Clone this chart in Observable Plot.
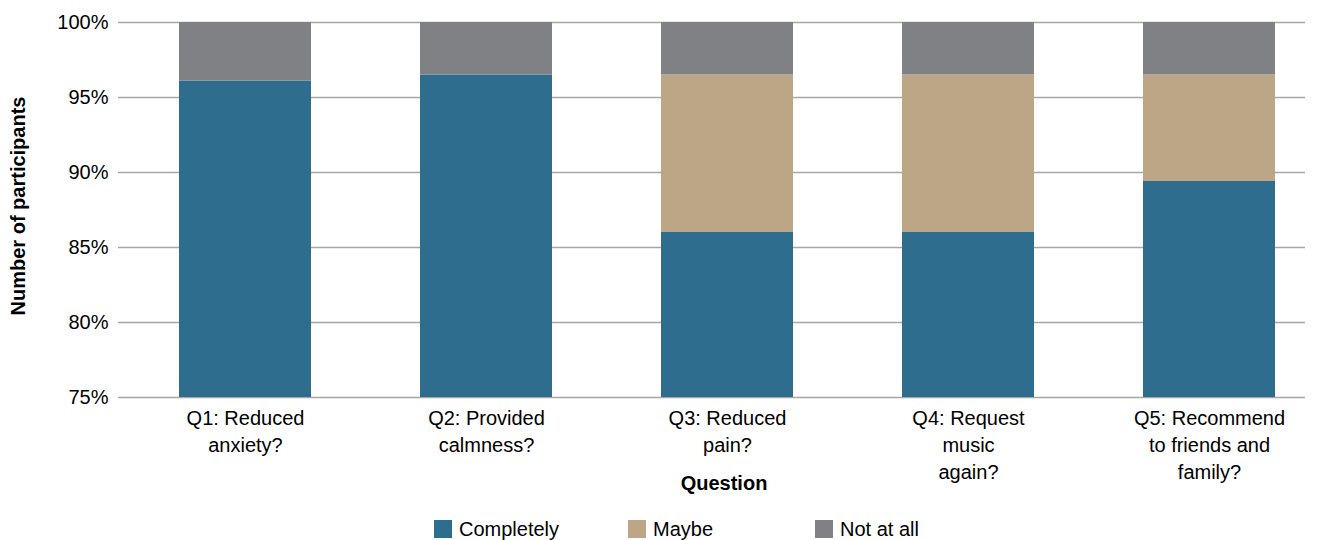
<!DOCTYPE html>
<html><head><meta charset="utf-8">
<script src="https://cdn.jsdelivr.net/npm/d3@7"></script>
<script src="https://cdn.jsdelivr.net/npm/@observablehq/plot@0.6"></script>
<style>
html,body{margin:0;padding:0;background:#fff;overflow:hidden;font-family:"Liberation Sans",Arial,sans-serif;}
#legend{display:flex;margin-left:434px;margin-top:10px;height:38px;align-items:center;font-size:20px;color:#000}
.item{display:flex;align-items:center}
.sw{width:18px;height:18px;margin-right:7px}
</style></head><body><div id="chart"></div><div id="legend"></div>
<script>
const questions = ["Q1: Reduced\nanxiety?", "Q2: Provided\ncalmness?", "Q3: Reduced\npain?", "Q4: Request\nmusic\nagain?", "Q5: Recommend\nto friends and\nfamily?"];
const completely = [96.1, 96.5, 86.0, 86.0, 89.4];
const maybe = [0, 0, 10.5, 10.5, 7.1];
const notAtAll = [3.9, 3.5, 3.5, 3.5, 3.5];
const series = ["Completely", "Maybe", "Not at all"];
const colors = ["#2e6d8e", "#bca686", "#808185"];
const yTicks = [75, 80, 85, 90, 95, 100];
const xTitle = "Question";
const yTitle = "Number of participants";

const data = [];
questions.forEach((q, i) => {
  data.push({q, s: series[0], v: completely[i]});
  data.push({q, s: series[1], v: maybe[i]});
  data.push({q, s: series[2], v: notAtAll[i]});
});

const font = '"Liberation Sans", Arial, sans-serif';
const chart = Plot.plot({
  width: 1319, height: 500,
  marginTop: 22, marginLeft: 118, marginRight: 14, marginBottom: 103,
  style: {fontFamily: font, fontSize: "20px", color: "#000", background: "#fff"},
  x: {domain: questions, range: [124, 1330], paddingInner: 0.453, paddingOuter: 0.2265, label: null},
  y: {domain: [75, 100], ticks: yTicks, tickFormat: d => d + "%", label: null},
  color: {domain: series, range: colors},
  marks: [
    Plot.ruleY(yTicks, {stroke: "#a6a6a6", strokeWidth: 1.5}),
    Plot.barY(data, {x: "q", y: "v", fill: "s", clip: true}),
    Plot.axisX({tickSize: 0, tickPadding: 9, lineHeight: 1.33, label: null, fill: "#000"}),
    Plot.axisY({ticks: yTicks, tickSize: 0, tickPadding: 10, label: null, fill: "#000", tickFormat: d => d + "%"}),
    Plot.text([xTitle], {frameAnchor: "bottom", dy: 92, dx: 12, fontWeight: "bold", fill: "#000"}),
    Plot.text([yTitle], {frameAnchor: "left", textAnchor: "middle", rotate: -90, dx: -100, dy: -4, fontWeight: "bold", fill: "#000"})
  ]
});
document.getElementById("chart").appendChild(chart);

const widths = [194, 187, 120];
const legend = document.getElementById("legend");
series.forEach((s, i) => {
  const item = document.createElement("div");
  item.className = "item";
  item.style.width = widths[i] + "px";
  const sw = document.createElement("div");
  sw.className = "sw";
  sw.style.background = colors[i];
  const t = document.createElement("span");
  t.textContent = s;
  item.appendChild(sw); item.appendChild(t);
  legend.appendChild(item);
});
</script></body></html>
